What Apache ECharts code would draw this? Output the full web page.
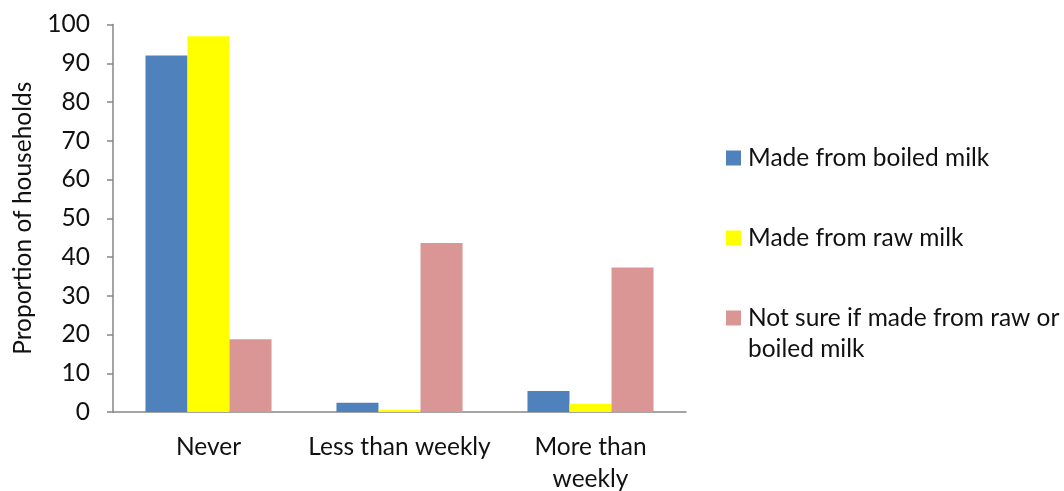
<!DOCTYPE html>
<html><head><meta charset="utf-8">
<script src="https://cdn.jsdelivr.net/npm/echarts@6/dist/echarts.min.js"></script>
<style>html,body{margin:0;padding:0;background:#fff}#c{width:1064px;height:491px}</style>
</head><body><div id="c"></div>
<script>
const categories = ['Never', 'Less than weekly', 'More than weekly'];
const seriesNames = ['Made from boiled milk', 'Made from raw milk', 'Not sure if made from raw or boiled milk'];
const boiled = [92, 2.4, 5.4];
const raw = [97, 0.6, 2.1];
const notSure = [18.8, 43.6, 37.3];
const yTicks = [0, 10, 20, 30, 40, 50, 60, 70, 80, 90, 100];
const yTitle = 'Proportion of households';

const FONT = 'Lato';
const FS = 24.5;
const chart = echarts.init(document.getElementById('c'), null, {renderer: 'canvas'});
const axisColor = '#868686';
const legendBase = {
  orient: 'vertical', left: 726, padding: 0, icon: 'rect', itemWidth: 15, itemHeight: 15,
  textStyle: {fontFamily: FONT, fontSize: FS, color: '#111', lineHeight: 31, padding: [0, 0, 0, 2]}
};
chart.setOption({
  animation: false,
  grid: {left: 113, right: 378, top: 24.5, bottom: 79, containLabel: false, outerBoundsMode: 'none'},
  xAxis: {
    type: 'category', data: categories,
    axisLine: {lineStyle: {color: axisColor, width: 1.5}},
    axisTick: {length: 6, lineStyle: {color: axisColor, width: 1.5}},
    axisLabel: {
      fontFamily: FONT, fontSize: FS, color: '#111', margin: 19, lineHeight: 32, interval: 0,
      formatter: v => v === 'More than weekly' ? 'More than\nweekly' : v
    }
  },
  yAxis: {
    type: 'value', min: yTicks[0], max: yTicks[yTicks.length - 1], interval: 10,
    name: yTitle, nameLocation: 'middle', nameRotate: 90, nameGap: 77,
    nameTextStyle: {fontFamily: FONT, fontSize: FS, color: '#111'},
    axisLine: {show: true, lineStyle: {color: axisColor, width: 1.5}},
    axisTick: {show: true, length: 6, lineStyle: {color: axisColor, width: 1.5}},
    axisLabel: {fontFamily: FONT, fontSize: FS, color: '#111', margin: 23},
    splitLine: {show: false}
  },
  legend: [
    Object.assign({}, legendBase, {top: 142.5, data: [seriesNames[0]]}),
    Object.assign({}, legendBase, {top: 222.5, data: [seriesNames[1]]}),
    Object.assign({}, legendBase, {top: 271.5, data: [seriesNames[2]],
      formatter: () => ' \nNot sure if made from raw or\nboiled milk'})
  ],
  series: [
    {name: seriesNames[0], type: 'bar', data: boiled, barGap: '0%', barCategoryGap: '34%', itemStyle: {color: '#4F81BD'}},
    {name: seriesNames[1], type: 'bar', data: raw, itemStyle: {color: '#FFFF00'}},
    {name: seriesNames[2], type: 'bar', data: notSure, itemStyle: {color: '#D99694'}}
  ]
});
</script></body></html>
